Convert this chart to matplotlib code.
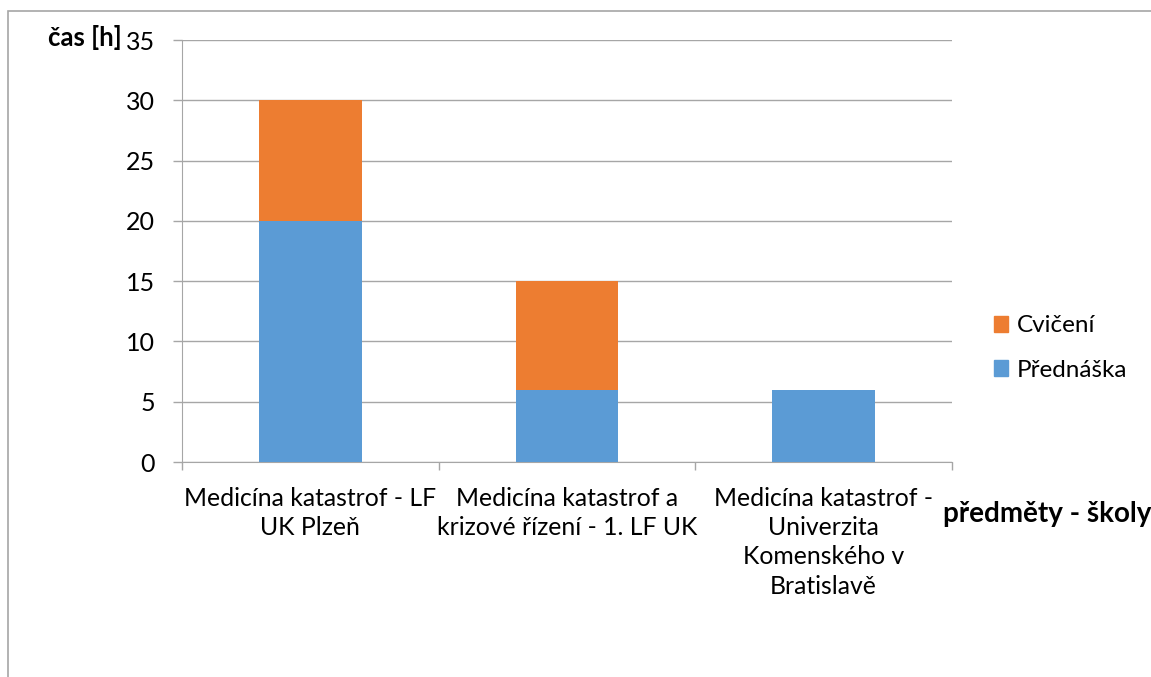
import matplotlib
matplotlib.use("Agg")
import matplotlib.pyplot as plt
from matplotlib.patches import Rectangle, Patch

categories = ["Medicína katastrof - LF\nUK Plzeň",
              "Medicína katastrof a\nkrizové řízení - 1. LF UK",
              "Medicína katastrof -\nUniverzita\nKomenského v\nBratislavě"]
prednaska = [20, 6, 6]
cviceni = [10, 9, 0]
yticks = [0, 5, 10, 15, 20, 25, 30, 35]

BLUE = "#5B9BD5"
ORANGE = "#ED7D31"
GRID = "#A6A6A6"
FONT = "Lato"

W, H = 1151, 677
fig = plt.figure(figsize=(W / 100, H / 100), dpi=100)
ax = fig.add_axes([182 / W, 1 - 462 / H, (952 - 182) / W, (462 - 40) / H])

x = list(range(len(categories)))
ax.bar(x, prednaska, width=0.4, color=BLUE, zorder=3)
ax.bar(x, cviceni, width=0.4, bottom=prednaska, color=ORANGE, zorder=3)

ax.set_xlim(-0.5, 2.5)
ax.set_ylim(0, 35)
ax.set_yticks(yticks)
ax.set_yticklabels([str(v) for v in yticks], fontsize=18, family=FONT)
ax.yaxis.grid(True, color=GRID, linewidth=1, zorder=0)
ax.tick_params(axis="y", length=6.5, color=GRID, width=1, pad=13)
ax.set_xticks([-0.5, 0.5, 1.5, 2.5])
ax.set_xticklabels([])
ax.tick_params(axis="x", length=6, color=GRID, width=1)
for s in ["top", "right"]:
    ax.spines[s].set_visible(False)
ax.spines["left"].set_color(GRID)
ax.spines["bottom"].set_color(GRID)

for i, c in enumerate(categories):
    ax.text(i, -0.06, c, transform=ax.get_xaxis_transform(), ha="center", va="top",
            fontsize=17.8, family=FONT, linespacing=1.32)

fig.text(122 / W, 1 - 37 / H, "čas [h]", ha="right", va="center", fontsize=18.5,
         fontweight="bold", family=FONT)
fig.text(1151 / W, 1 - 514 / H, "předměty - školy", ha="right", va="center",
         fontsize=20, fontweight="bold", family=FONT)

handles = [Patch(color=ORANGE, label="Cvičení"), Patch(color=BLUE, label="Přednáška")]
leg = fig.legend(handles=handles, loc="center left", bbox_to_anchor=(972 / W, 1 - 348 / H),
                 frameon=False, prop={"family": FONT, "size": 17.5}, handlelength=0.6,
                 handleheight=0.6, handletextpad=0.35, labelspacing=0.95)

fig.patches.append(Rectangle((8 / W, -0.5), 1.5, 1.5 - 11 / H, transform=fig.transFigure,
                             fill=False, edgecolor=GRID, linewidth=1.2))

fig.savefig("out.png", dpi=100)
